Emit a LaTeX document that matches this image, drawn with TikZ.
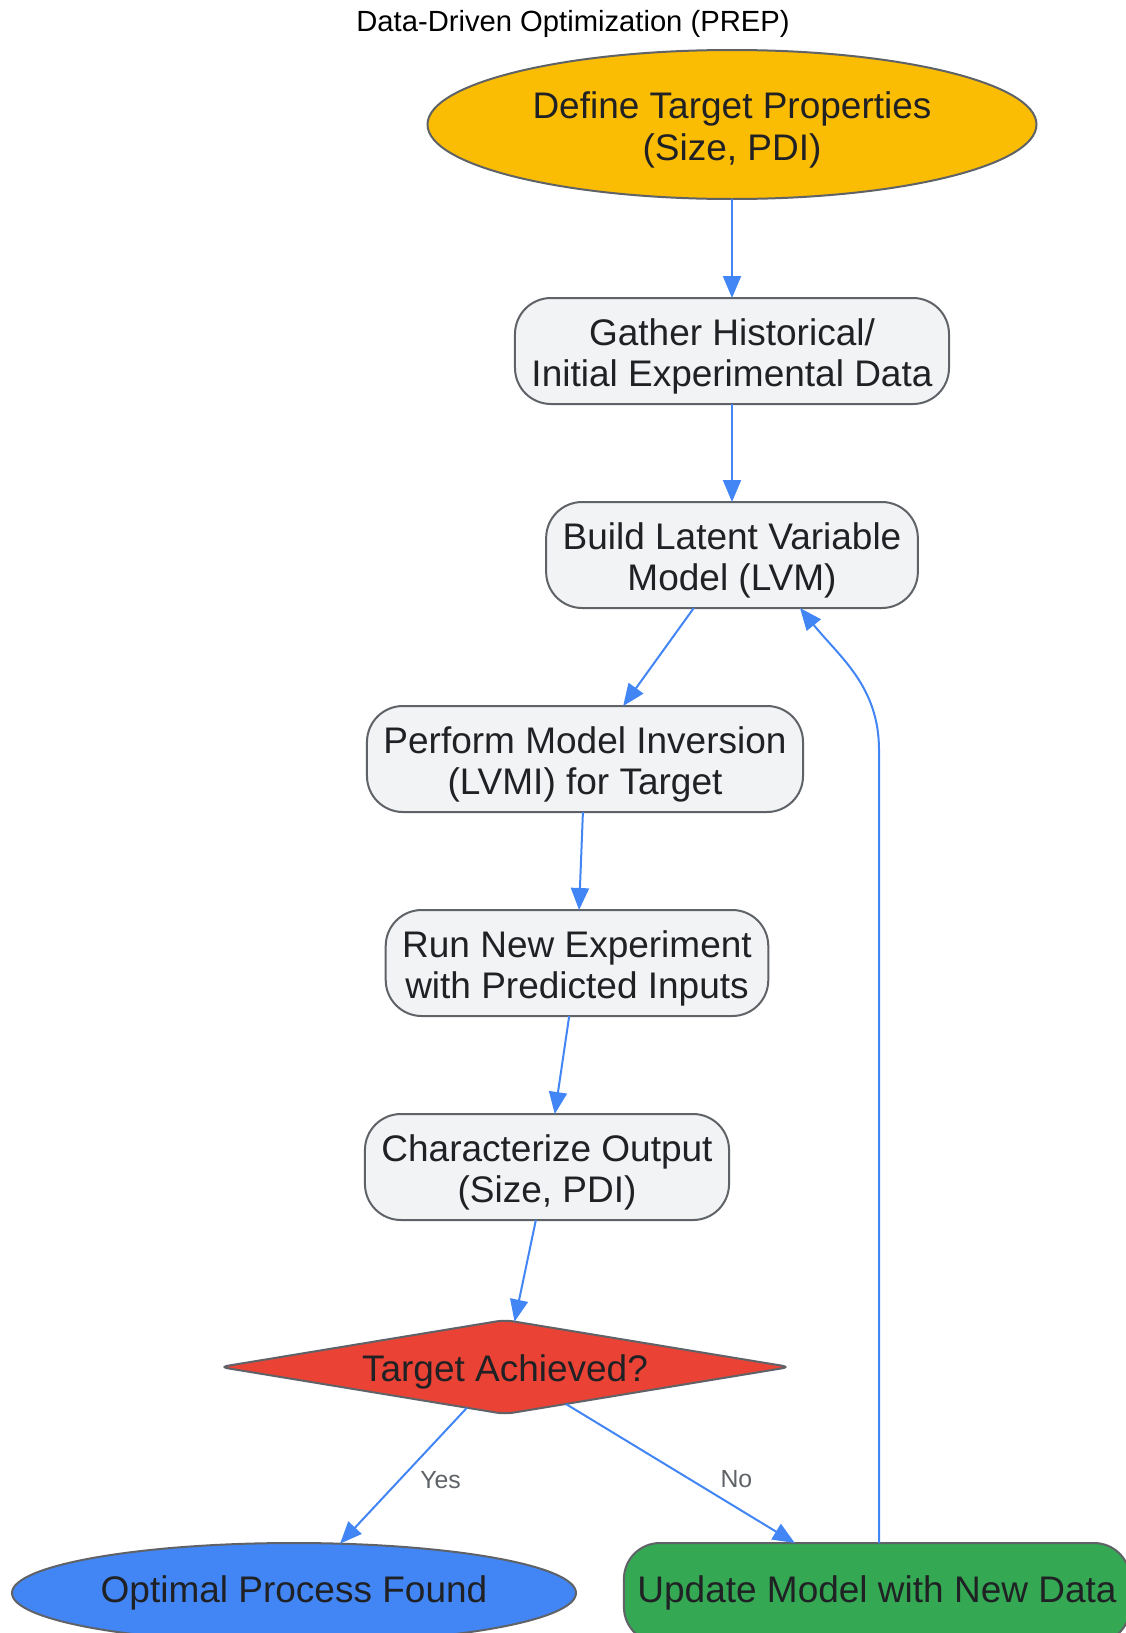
\documentclass[tikz,border=0pt]{standalone}
\usepackage{fontspec}
\setmainfont{Liberation Sans}
\usetikzlibrary{positioning, arrows.meta, shapes.geometric}
\definecolor{gyellow}{HTML}{FBBC04}
\definecolor{gred}{HTML}{EA4335}
\definecolor{gblue}{HTML}{4285F4}
\definecolor{ggreen}{HTML}{34A853}
\definecolor{boxgray}{HTML}{F1F3F4}
\definecolor{edgegray}{HTML}{5F6368}
\definecolor{ink}{HTML}{202124}
\definecolor{labelgray}{HTML}{5F6368}
\tikzset{
  block/.style={
    draw=edgegray,
    line width=1pt,
    outer sep=0pt,
    rectangle,
    rounded corners=18pt,
    minimum height=53pt,
    inner xsep=8.25pt,
    align=center,
    fill=boxgray,
    text=ink,
    font=\fontsize{18.5}{20.8}\selectfont
  },
  terminal/.style={
    draw=edgegray,
    line width=1pt,
    outer sep=0pt,
    ellipse,
    inner sep=0pt,
    align=center,
    text=ink,
    font=\fontsize{18.5}{20.8}\selectfont
  },
  twoline/.style={
    execute at begin node={\rule{0pt}{39.5pt}}
  },
  decision/.style={
    draw=edgegray,
    line width=1pt,
    outer sep=0pt,
    diamond,
    aspect=6,
    rounded corners=4pt,
    inner sep=0pt,
    minimum width=285pt,
    minimum height=47pt,
    fill=gred,
    text=ink,
    font=\fontsize{18.5}{20.8}\selectfont,
    execute at begin node={\rule{0pt}{18pt}}
  },
  flow/.style={
    draw=gblue,
    line width=1pt,
    -{Triangle[length=11pt, width=9pt]}
  },
  answer/.style={
    text=labelgray,
    font=\fontsize{12.4}{14}\selectfont
  }
}

\begin{document}
\begin{tikzpicture}[x=0.5pt, y=-0.5pt]
    \useasboundingbox (0,0) rectangle (1125,1633);
    \node[font=\fontsize{14.6}{17}\selectfont] (title) at (573,24) {Data-Driven Optimization (PREP)};

    \node[terminal, twoline, fill=gyellow, minimum width=304.5pt, minimum height=74.5pt] (target) at (732,124.5) {Define Target Properties\\(Size, PDI)};
    \node[block, twoline, below=49.5pt of target] (gather) {Gather Historical/\\Initial Experimental Data};
    \node[block, twoline, below=49pt of gather] (lvm) {Build Latent Variable\\Model (LVM)};
    \node[block, twoline, below=49pt of lvm, xshift=-73.5pt] (invert) {Perform Model Inversion\\(LVMI) for Target};
    \node[block, twoline, below=49pt of invert, xshift=-4pt] (run) {Run New Experiment\\with Predicted Inputs};
    \node[block, twoline, below=49pt of run, xshift=-15pt] (charac) {Characterize Output\\(Size, PDI)};
    \node[decision, below=50pt of charac, xshift=-21pt] (check) {Target Achieved?};
    \node[terminal, fill=gblue, minimum width=282pt, minimum height=50pt, below=64.5pt of check, xshift=-105.5pt] (optimal) {Optimal Process Found};
    \node[block, fill=ggreen, inner xsep=6.75pt, minimum height=50pt, below=64.5pt of check, xshift=186pt] (update) {Update Model with New Data};
    \coordinate (bend) at (879,750);

    \draw[flow] (target) -- (gather);
    \draw[flow] (gather) -- (lvm);
    \draw[flow] (lvm) -- (invert);
    \draw[flow] (invert) -- (run);
    \draw[flow] (run) -- (charac);
    \draw[flow] (charac) -- (check);
    \draw[flow] (check) -- node[answer, pos=0.5, xshift=18.5pt, yshift=-2pt] {Yes} (optimal);
    \draw[flow] (check) -- node[answer, pos=0.5, xshift=28pt, yshift=-3pt] {No} (update);
    \draw[flow] (update.north -| bend) -- (bend) to[out=90, in=-51] ([xshift=34pt]lvm.south);
\end{tikzpicture}
\end{document}
